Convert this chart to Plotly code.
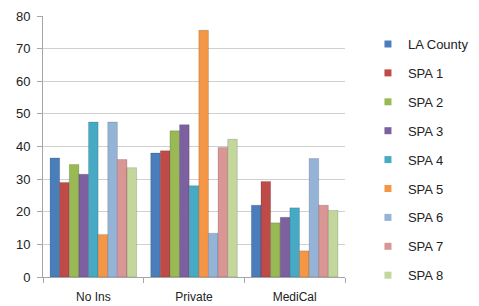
import plotly.graph_objects as go

categories = ["No Ins", "Private", "MediCal"]
series_names = ["LA County", "SPA 1", "SPA 2", "SPA 3", "SPA 4", "SPA 5", "SPA 6", "SPA 7", "SPA 8"]
la_county = [36.5, 38, 22]
spa1 = [29, 38.7, 29.3]
spa2 = [34.5, 44.8, 16.6]
spa3 = [31.5, 46.7, 18.3]
spa4 = [47.5, 28, 21.2]
spa5 = [13, 75.6, 8]
spa6 = [47.5, 13.4, 36.3]
spa7 = [36, 39.7, 22]
spa8 = [33.5, 42.2, 20.4]
colors = ["#4A7EBB", "#BE4B48", "#98B954", "#7D60A0", "#46AAC5", "#F59646", "#95B3D7", "#D99694", "#C3D69B"]

values = [la_county, spa1, spa2, spa3, spa4, spa5, spa6, spa7, spa8]

fig = go.Figure()
for name, vals, col in zip(series_names, values, colors):
    fig.add_trace(go.Bar(
        x=categories, y=vals, name=name, legendgroup=name, showlegend=False,
        marker=dict(color=col, line=dict(color="rgba(0,0,0,0.25)", width=0.6)),
    ))
for name, col in zip(series_names, colors):
    fig.add_trace(go.Scatter(
        x=[None], y=[None], mode="markers", name=name, legendgroup=name,
        marker=dict(symbol="square", size=7, color=col),
    ))

fig.update_layout(
    width=471, height=298,
    margin=dict(l=35, r=134, t=8, b=29, autoexpand=False),
    paper_bgcolor="white", plot_bgcolor="white",
    barmode="group", bargap=0.14, bargroupgap=0,
    font=dict(family="Liberation Sans, Arial, sans-serif", size=12, color="#222"),
    showlegend=True,
    legend=dict(x=1.076, y=0.95, xanchor="left", yanchor="top",
                traceorder="grouped", tracegroupgap=9,
                font=dict(size=13, color="#222"), itemwidth=30,
                bgcolor="rgba(0,0,0,0)"),
    xaxis=dict(showline=True, linecolor="#a6a6a6", linewidth=1,
               ticks="outside", tickson="boundaries", ticklen=5, tickcolor="#a6a6a6",
               tickfont=dict(size=12), showgrid=False, ticklabelstandoff=9),
    yaxis=dict(range=[0, 80], dtick=10, showline=True, linecolor="#a6a6a6", linewidth=1,
               ticks="outside", ticklen=5, tickcolor="#a6a6a6",
               gridcolor="#d0d0d0", gridwidth=1, zeroline=False,
               tickfont=dict(size=13), ticklabelstandoff=4,
               ticklabeloverflow="allow"),
)

fig.write_html("out.html")
